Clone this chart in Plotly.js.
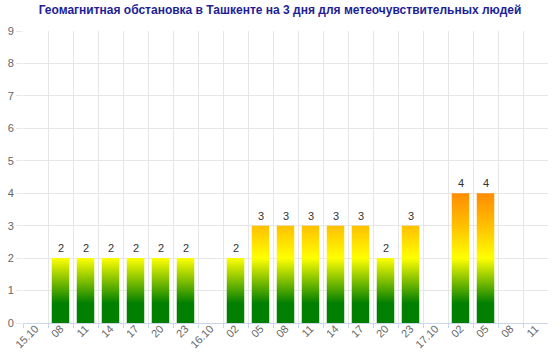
<!DOCTYPE html>
<html>
<head>
<meta charset="utf-8">
<script src="https://cdn.plot.ly/plotly-3.0.1.min.js"></script>
<style>html,body{margin:0;padding:0;background:#fff;}#chart{width:560px;height:352px;}</style>
</head>
<body>
<div id="chart"></div>
<script>
const tickLabels = ['15.10','08','11','14','17','20','23','16.10','02','05','08','11','14','17','20','23','17.10','02','05','08','11'];
const kpValues = [null,2,2,2,2,2,2,null,2,3,3,3,3,3,2,3,null,4,4,null,null];
const titleText = 'Геомагнитная обстановка в Ташкенте на 3 дня для метеочувствительных людей';

const idx = tickLabels.map((_, i) => i);
const hw = 0.35;
const bx = [], by = [], ann = [];
const font = 'Liberation Sans, Arial, sans-serif';
kpValues.forEach((v, i) => {
  if (v === null) return;
  bx.push(i - hw, i - hw, i + hw, i + hw, i - hw, null);
  by.push(0, v, v, 0, 0, null);
  ann.push({x: i, y: v, text: String(v), showarrow: false, xanchor: 'center', yanchor: 'bottom', yshift: 2,
    font: {family: font, size: 11, color: '#333'}});
});
const bounds = idx.slice(0, idx.length - 1).map(i => i - 0.5);
bounds.push(idx.length - 1.5);

const traces = [
  {
    type: 'scatter', mode: 'lines', x: bx, y: by, fill: 'toself',
    line: {width: 0, color: 'rgba(0,0,0,0)'},
    fillgradient: {
      type: 'vertical', start: 0, stop: 4,
      colorscale: [[0, '#007f00'], [0.15, '#007f00'], [0.5, '#ffff00'], [0.75, '#ffc000'], [1, '#ff8c00']]
    },
    hoverinfo: 'skip', showlegend: false
  }
];

const layout = {
  width: 560, height: 352,
  margin: {l: 23, r: 12, t: 31, b: 29},
  paper_bgcolor: '#fff', plot_bgcolor: '#fff',
  font: {family: font, size: 11, color: '#666'},
  title: {text: '<b>' + titleText + '</b>', font: {family: font, size: 12, color: '#1e1e96'}, x: 0.5, xanchor: 'center', y: 0.972, yanchor: 'middle'},
  annotations: ann,
  xaxis: {
    range: [-0.5, idx.length - 0.5], tickmode: 'array', tickvals: idx, ticktext: tickLabels,
    tickangle: -45, showgrid: false, ticks: '', zeroline: false,
    showline: true, linecolor: '#ccd6eb', linewidth: 1,
    ticklabelstandoff: -6,
    tickfont: {family: font, size: 11, color: '#666'},
    minor: {tickmode: 'array', tickvals: bounds, showgrid: true, gridcolor: '#e6e6e6', gridwidth: 1, ticks: 'outside', ticklen: 4, tickcolor: '#ccd6eb'}
  },
  yaxis: {
    range: [0, 9], tickmode: 'linear', tick0: 0, dtick: 1, showgrid: true, gridcolor: '#e6e6e6',
    zeroline: false, showline: false, ticks: 'outside', ticklen: 6, tickcolor: '#e6e6e6',
    tickfont: {family: font, size: 11, color: '#666'}
  }
};

Plotly.newPlot('chart', traces, layout, {staticPlot: true, displayModeBar: false});
</script>
</body>
</html>
